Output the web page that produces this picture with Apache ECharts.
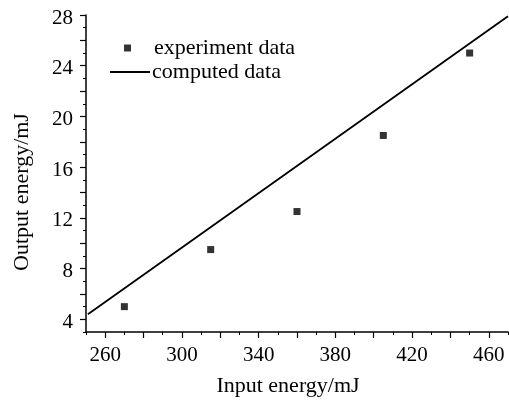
<!DOCTYPE html>
<html>
<head>
<meta charset="utf-8">
<script src="https://cdn.jsdelivr.net/npm/echarts@6/dist/echarts.min.js"></script>
<style>html,body{margin:0;padding:0;background:#fff;}#c{width:509px;height:403px;}</style>
</head>
<body>
<div id="c"></div>
<script>
const expX = [270, 315, 360, 405, 450];
const expY = [5, 9.5, 12.5, 18.5, 25];
const lineX = [251, 470];
const lineY = [4.4, 27.9];
const xLabels = [260, 300, 340, 380, 420, 460];
const xMajor = [260, 280, 300, 320, 340, 360, 380, 400, 420, 440, 460];
const xMinor = [250, 270, 290, 310, 330, 350, 370, 390, 410, 430, 450, 470];
const yLabels = [4, 8, 12, 16, 20, 24, 28];
const yMajor = [4, 6, 8, 10, 12, 14, 16, 18, 20, 22, 24, 26, 28];
const yMinor = [3, 5, 7, 9, 11, 13, 15, 17, 19, 21, 23, 25, 27];
const seriesNames = ['experiment data', 'computed data'];
const xName = 'Input energy/mJ';
const yName = 'Output energy/mJ';

const FONT = 'Liberation Serif';
const chart = echarts.init(document.getElementById('c'), null, {renderer: 'canvas'});
const lineStyleAxis = {color: '#000', width: 1.5};
chart.setOption({
  animation: false,
  backgroundColor: '#fff',
  grid: {left: 86, right: 1, top: 15, bottom: 71, containLabel: false},
  legend: [
    {data: [seriesNames[0]], left: 124, top: 37, padding: 0, orient: 'vertical', itemWidth: 7, itemHeight: 7,
     icon: 'rect', textStyle: {fontFamily: FONT, fontSize: 22, color: '#000', padding: [0, 0, 0, 18]}},
    {data: [seriesNames[1]], left: 110, top: 61, padding: 0, orient: 'vertical', itemWidth: 40, itemHeight: 2,
     icon: 'rect', itemStyle: {color: '#000'},
     textStyle: {fontFamily: FONT, fontSize: 22, color: '#000', padding: [0, 0, 0, -3]}}
  ],
  xAxis: [
    {type: 'value', min: 250, max: 470,
     axisLine: {show: true, onZero: false, lineStyle: lineStyleAxis},
     axisTick: {show: true, inside: false, length: 6, customValues: xMajor, lineStyle: {color: '#000', width: 1.2}},
     axisLabel: {customValues: xLabels, margin: 13, fontFamily: FONT, fontSize: 21, color: '#000'},
     splitLine: {show: false}},
    {type: 'value', min: 250, max: 470, position: 'bottom',
     axisLine: {show: false},
     axisTick: {show: true, inside: false, length: 3, customValues: xMinor, lineStyle: {color: '#000', width: 1}},
     axisLabel: {show: false}, splitLine: {show: false}}
  ],
  yAxis: [
    {type: 'value', min: 3, max: 28,
     axisLine: {show: true, onZero: false, lineStyle: lineStyleAxis},
     axisTick: {show: true, inside: false, length: 6, customValues: yMajor, lineStyle: {color: '#000', width: 1.2}},
     axisLabel: {customValues: yLabels, margin: 13, verticalAlign: 'top', lineHeight: 6, fontFamily: FONT, fontSize: 21, color: '#000'},
     splitLine: {show: false}},
    {type: 'value', min: 3, max: 28, position: 'left',
     axisLine: {show: false},
     axisTick: {show: true, inside: false, length: 3, customValues: yMinor, lineStyle: {color: '#000', width: 1}},
     axisLabel: {show: false}, splitLine: {show: false}}
  ],
  graphic: [
    {type: 'text', x: 288, y: 386, style: {text: xName, fontFamily: FONT, fontSize: 22, fill: '#000',
      align: 'center', verticalAlign: 'middle'}},
    {type: 'text', x: 22, y: 192, rotation: Math.PI / 2, style: {text: yName, fontFamily: FONT, fontSize: 22, fill: '#000',
      align: 'center', verticalAlign: 'middle'}}
  ],
  series: [
    {name: seriesNames[0], type: 'scatter', symbol: 'rect', symbolSize: 7,
     itemStyle: {color: '#000'}, data: expX.map((x, i) => [x, expY[i]])},
    {name: seriesNames[1], type: 'line', symbol: 'none', lineStyle: {color: '#000', width: 1.8},
     itemStyle: {color: '#000'}, data: lineX.map((x, i) => [x, lineY[i]])}
  ]
});
</script>
</body>
</html>
